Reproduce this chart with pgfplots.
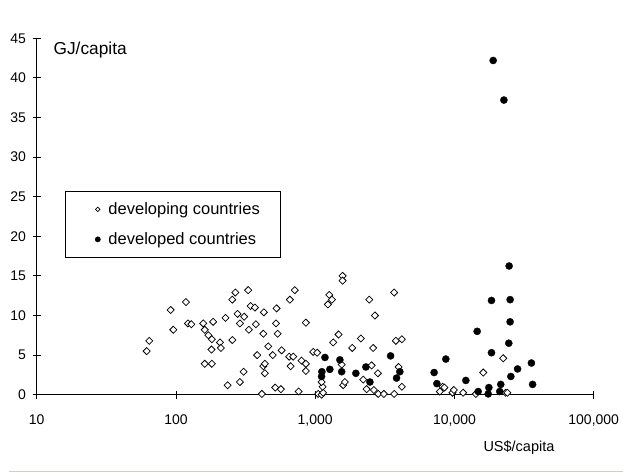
\documentclass[border=0pt]{standalone}
\usepackage{fontspec}
\setmainfont{Liberation Sans}
\usepackage{pgfplots}
\pgfplotsset{compat=1.18}
\definecolor{framegreen}{RGB}{208,208,192}

\pgfplotstableread{
x y
61.6 5.5
64.3 6.8
91.6 10.7
95.7 8.2
118 11.7
122 9.0
129 8.9
157 9.0
161 8.2
171 7.5
161 3.9
181 3.9
185 9.2
181 7.0
180 5.7
207 6.6
210 5.9
227 9.7
235 1.2
254 6.9
254 12.0
267 12.9
277 10.2
288 9.0
288 1.6
309 9.85
306 2.9
330 13.2
334 8.2
344 11.2
369 11.0
375 8.9
383 5.0
414 0.1
424 3.6
435 3.9
435 2.7
428 10.4
424 7.7
460 6.1
495 5.0
516 0.9
567 0.7
528 10.9
523 9.0
537 7.7
574 5.6
651 4.8
666 3.6
695 4.8
658 12.0
714 13.2
760 0.4
798 4.3
857 9.1
857 3.9
857 3.0
968 5.4
1033 5.3
1051 0.1
1111 0.0
1140 0.25
1130 1.0
1111 1.6
1573 15.0
1573 14.4
1262 12.6
1318 12.0
1233 11.4
2443 12.0
2685 10.0
3690 12.9
1346 6.6
1471 7.6
2128 7.1
1845 5.9
2608 5.9
3796 6.8
4193 7.0
1549 3.8
2541 3.7
2820 2.7
1589 1.2
1634 1.6
2213 1.9
2339 0.7
2638 0.6
2833 0.1
3114 0.1
3690 0.1
3970 3.5
4190 1.0
7850 0.4
8220 1.0
8470 0.9
9680 0.25
9900 0.6
11550 0.25
14250 0.1
16100 2.8
22400 4.6
23300 0.25
24000 0.25
}\developing

\pgfplotstableread{
x y
1175 4.7
1117 2.9
1111 2.3
1274 3.2
1504 4.4
1549 2.9
1959 2.7
2312 3.5
2472 1.6
3478 4.9
4052 2.9
3838 2.1
7145 2.8
7480 1.4
8670 4.5
12070 1.8
14560 8.0
14800 0.4
17660 0.9
17460 0.1
18450 11.9
18450 5.3
21500 1.3
21150 0.4
24700 16.25
25100 12.0
25100 9.2
24550 6.5
25400 2.3
28400 3.25
35700 4.0
36400 1.3
18970 42.2
22650 37.2
}\developed

\begin{document}
\begin{tikzpicture}
\useasboundingbox (-36.7bp,-78.3bp) rectangle (586.3bp,394.7bp);
\begin{axis}[
  at={(0,0)}, anchor=south west,
  scale only axis, width=557bp, height=356.4bp,
  xmode=log, xmin=10, xmax=100000, ymin=0, ymax=45,
  axis lines*=left,
  axis line style={black, line width=0.8bp},
  xtick={10,100,1000,10000,100000},
  xticklabels={10,100,{1,000},{10,000},{100,000}},
  ytick={0,5,...,45},
  yticklabels={0,5,10,15,20,25,30,35,40,45},
  xminorticks=false, yminorticks=false,
  tick align=center, major tick length=8bp,
  tick style={black, line width=0.8bp},
  ticklabel style={font=\fontsize{14bp}{16bp}\selectfont},
  xticklabel style={anchor=base, inner sep=0pt, yshift=-25.8bp},
  yticklabel style={anchor=east, inner sep=0pt, xshift=-6.7bp},
  clip=false,
  legend cell align=left,
  legend style={
    at={(rel axis cs:0.0508,0.5716)}, anchor=north west,
    draw=black, line width=0.8bp,
    inner xsep=21bp, inner ysep=3bp,
    font=\fontsize{16.5bp}{20bp}\selectfont,
    row sep=0pt,
    nodes={inner sep=0pt, text height=20bp, text depth=10bp},
    /tikz/every odd column/.append style={column sep=7.3bp},
  },
  legend image code/.code={\path (-11bp,0bp) (3bp,0bp);
    \draw[#1] plot coordinates {(0bp,0bp)};},
]
\addplot[only marks, mark=square*, mark size=2.5bp,
  mark options={rotate=45, fill=white, draw=black, line width=0.75bp},
  legend image post style={mark size=1.6bp}]
  table {\developing};
\addlegendentry{developing countries}
\addplot[only marks, mark=*, mark size=3.6bp,
  mark options={fill=black, draw=black, line width=0.3bp},
  legend image post style={mark size=2.7bp}]
  table {\developed};
\addlegendentry{developed countries}
\node[anchor=base west, inner sep=0pt, font=\fontsize{17.3bp}{20bp}\selectfont]
  at (rel axis cs:0.030,0.955) {GJ/capita};
\node[anchor=base west, inner sep=0pt, font=\fontsize{14.5bp}{17bp}\selectfont,
  yshift=-56.3bp] at (rel axis cs:0.8018,0) {US\$/capita};
\end{axis}
\draw[framegreen, line width=1.5bp] (-27.4bp,-77bp) -- (586.3bp,-77bp);
\end{tikzpicture}
\end{document}
